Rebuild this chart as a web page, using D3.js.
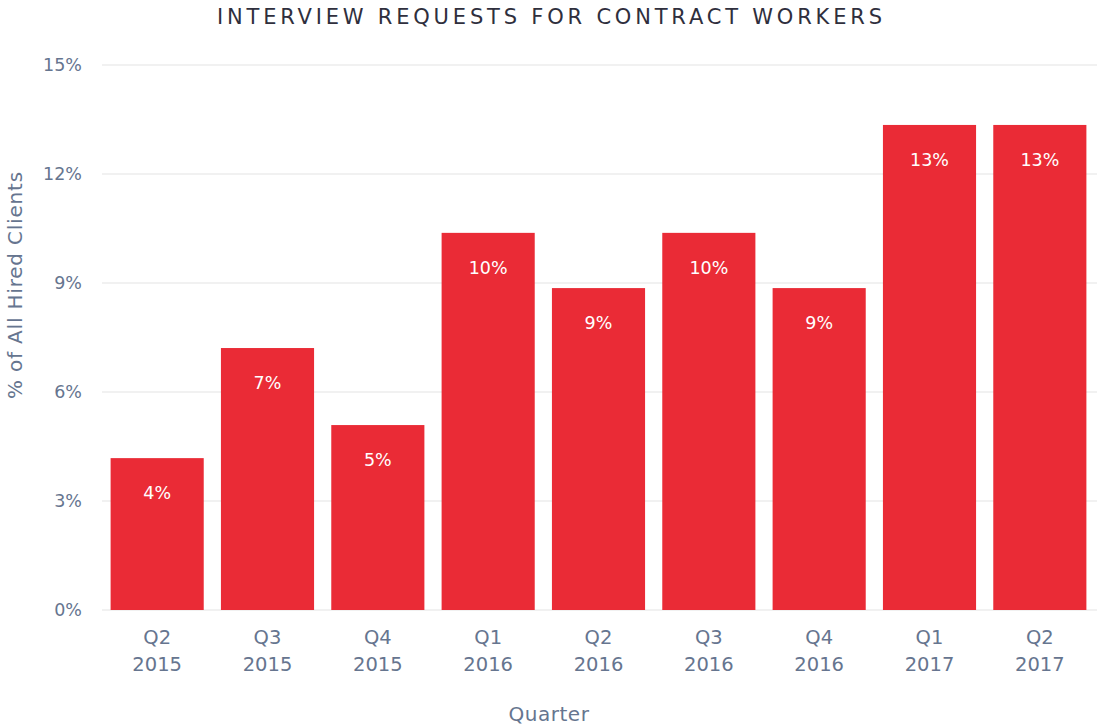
<!DOCTYPE html>
<html>
<head>
<meta charset="utf-8">
<script src="https://cdn.jsdelivr.net/npm/d3@7"></script>
<style>
  body { margin: 0; background: #fff; }
  text { font-family: "DejaVu Sans", "Noto Sans", sans-serif; }
</style>
</head>
<body>
<div id="chart-container"></div>
<script>
// Chart data
const quarters = ["Q2 2015", "Q3 2015", "Q4 2015", "Q1 2016", "Q2 2016", "Q3 2016", "Q4 2016", "Q1 2017", "Q2 2017"];
const shares = [4.18, 7.21, 5.09, 10.38, 8.86, 10.38, 8.86, 13.35, 13.35];
const yTicks = [0, 3, 6, 9, 12, 15];

const width = 1097;
const height = 726;
const labelColor = "#66758f";

const svg = d3.select("#chart-container").append("svg")
    .attr("width", width)
    .attr("height", height);

const x = d3.scaleBand()
    .domain(quarters)
    .range([102, 1095])
    .paddingInner(0.156)
    .paddingOuter(0.078);

const y = d3.scaleLinear()
    .domain([0, 15])
    .range([610, 65]);

// Title
svg.append("text")
    .attr("x", 549.5)
    .attr("y", 24)
    .attr("text-anchor", "middle")
    .attr("textLength", 665)
    .attr("lengthAdjust", "spacing")
    .style("font-size", "21px")
    .style("fill", "#2f2f3d")
    .text("INTERVIEW REQUESTS FOR CONTRACT WORKERS");

// Gridlines
svg.append("g")
    .selectAll("line")
    .data(yTicks)
    .join("line")
    .attr("x1", 102)
    .attr("x2", width)
    .attr("y1", d => y(d))
    .attr("y2", d => y(d))
    .style("stroke", "#e3e3e3")
    .style("stroke-width", 1);

// Y axis labels
const yAxis = svg.append("g")
    .attr("transform", "translate(82,0)")
    .call(d3.axisLeft(y).tickValues(yTicks).tickFormat(d => d + "%").tickSize(0).tickPadding(0));
yAxis.select(".domain").remove();
yAxis.selectAll("text")
    .style("font-size", "17.5px")
    .style("fill", labelColor)
    .style("font-family", "'DejaVu Sans', sans-serif");

// Bars
svg.append("g")
    .selectAll("rect")
    .data(quarters)
    .join("rect")
    .attr("x", d => x(d))
    .attr("y", (d, i) => y(shares[i]))
    .attr("width", x.bandwidth())
    .attr("height", (d, i) => y(0) - y(shares[i]))
    .style("fill", "#ea2b36");

// Value labels
svg.append("g")
    .selectAll("text")
    .data(quarters)
    .join("text")
    .attr("x", d => x(d) + x.bandwidth() / 2)
    .attr("y", (d, i) => y(shares[i]) + 41)
    .attr("text-anchor", "middle")
    .style("font-size", "17.5px")
    .style("fill", "#ffffff")
    .text((d, i) => Math.round(shares[i]) + "%");

// X axis labels (two lines)
const xLabels = svg.append("g")
    .selectAll("text")
    .data(quarters)
    .join("text")
    .attr("text-anchor", "middle")
    .style("font-size", "19.5px")
    .style("fill", labelColor);
xLabels.append("tspan")
    .attr("x", d => x(d) + x.bandwidth() / 2)
    .attr("y", 644)
    .text(d => d.split(" ")[0]);
xLabels.append("tspan")
    .attr("x", d => x(d) + x.bandwidth() / 2)
    .attr("y", 671)
    .text(d => d.split(" ")[1]);

// Axis titles
svg.append("text")
    .attr("x", 549)
    .attr("y", 721)
    .attr("text-anchor", "middle")
    .style("font-size", "20px")
    .style("letter-spacing", "0.5px")
    .style("fill", labelColor)
    .text("Quarter");

svg.append("text")
    .attr("transform", "translate(22,285) rotate(-90)")
    .attr("text-anchor", "middle")
    .style("font-size", "20px")
    .style("letter-spacing", "0.8px")
    .style("fill", labelColor)
    .text("% of All Hired Clients");
</script>
</body>
</html>
